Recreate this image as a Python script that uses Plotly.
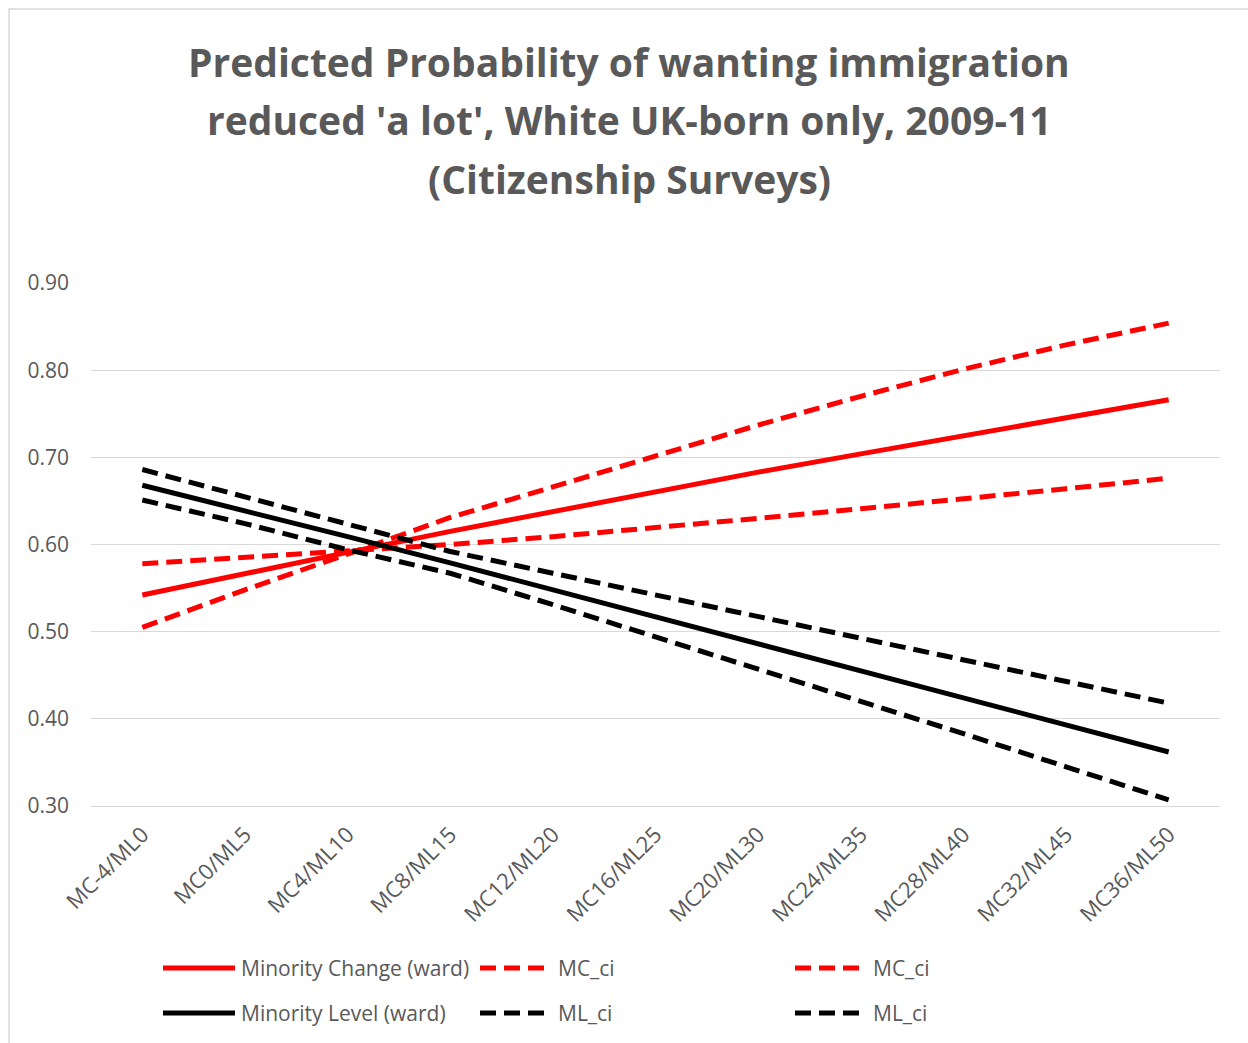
import plotly.graph_objects as go

# Category labels (Minority Change / Minority Level steps)
categories = ["MC-4/ML0", "MC0/ML5", "MC4/ML10", "MC8/ML15", "MC12/ML20", "MC16/ML25",
              "MC20/ML30", "MC24/ML35", "MC28/ML40", "MC32/ML45", "MC36/ML50"]

# Predicted probabilities and confidence bounds
mc_fit = [0.542, 0.567, 0.591, 0.615, 0.638, 0.661, 0.683, 0.704, 0.725, 0.746, 0.766]
mc_ci_upper = [0.505, 0.548, 0.589, 0.631, 0.666, 0.701, 0.737, 0.770, 0.801, 0.829, 0.854]
mc_ci_lower = [0.578, 0.585, 0.592, 0.600, 0.609, 0.619, 0.630, 0.641, 0.652, 0.664, 0.676]
ml_fit = [0.668, 0.639, 0.609, 0.579, 0.548, 0.517, 0.486, 0.455, 0.424, 0.393, 0.362]
ml_ci_upper = [0.686, 0.655, 0.624, 0.592, 0.567, 0.542, 0.517, 0.492, 0.467, 0.443, 0.418]
ml_ci_lower = [0.651, 0.624, 0.594, 0.567, 0.531, 0.494, 0.458, 0.421, 0.383, 0.345, 0.307]

series_names = ["Minority Change (ward)", "MC_ci", "MC_ci",
                "Minority Level (ward)", "ML_ci", "ML_ci"]
series_values = [mc_fit, mc_ci_upper, mc_ci_lower, ml_fit, ml_ci_upper, ml_ci_lower]
series_colors = ["#ff0000", "#ff0000", "#ff0000", "#000000", "#000000", "#000000"]
series_dash = ["solid", "16px,8px", "16px,8px", "solid", "16px,8px", "16px,8px"]

W, H = 1248, 1043
L, R, T, B = 91, 28, 283, 237
PW, PH = W - L - R, H - T - B
FONT = "Open Sans"
GREY = "#595959"


def fx(px):
    return (px - L) / PW


def fy(py):
    return (H - B - py) / PH


fig = go.Figure()
for name, vals, col, dash in zip(series_names, series_values, series_colors, series_dash):
    fig.add_trace(go.Scatter(
        x=categories, y=vals, mode="lines", name=name,
        line=dict(color=col, width=5, dash=dash),
        showlegend=False,
    ))

shapes = [
    # chart frame
    dict(type="rect", xref="paper", yref="paper",
         x0=fx(9), x1=fx(W + 5), y0=fy(H + 5), y1=fy(9),
         line=dict(color="#d9d9d9", width=1.5), fillcolor="rgba(0,0,0,0)", layer="below"),
]
annotations = []

# Title, one annotation per line
title_lines = ["Predicted Probability of wanting immigration",
               "reduced 'a lot', White UK-born only, 2009-11",
               "(Citizenship Surveys)"]
for i, line in enumerate(title_lines):
    annotations.append(dict(
        text=f"<b>{line}</b>", xref="paper", yref="paper",
        x=fx(629), y=fy(61 + 58.5 * i), xanchor="center", yanchor="middle",
        showarrow=False, font=dict(family=FONT, size=39, color=GREY),
    ))

# Legend: three columns, two rows
col_x = [163, 480, 795]
row_y = [968, 1013]
for idx, (name, col, dash) in enumerate(zip(series_names, series_colors, series_dash)):
    r, c = divmod(idx, 3)
    x0 = col_x[c]
    y = row_y[r]
    shapes.append(dict(type="line", xref="paper", yref="paper",
                       x0=fx(x0), x1=fx(x0 + 72), y0=fy(y), y1=fy(y),
                       line=dict(color=col, width=5, dash=dash)))
    annotations.append(dict(
        text=name, xref="paper", yref="paper", x=fx(x0 + 76), y=fy(y),
        xanchor="left", yanchor="middle", showarrow=False,
        font=dict(family=FONT, size=21, color=GREY),
    ))

fig.update_layout(
    width=W, height=H,
    margin=dict(l=L, r=R, t=T, b=B, autoexpand=False),
    paper_bgcolor="white", plot_bgcolor="white",
    shapes=shapes, annotations=annotations,
    showlegend=False,
    xaxis=dict(
        type="category", range=[-0.5, len(categories) - 0.5],
        tickangle=-45, tickfont=dict(family=FONT, size=22, color=GREY),
        showgrid=False, showline=True, linecolor="#d9d9d9", linewidth=1,
        ticks="", ticklabelstandoff=6, zeroline=False,
    ),
    yaxis=dict(
        range=[0.3, 0.9], dtick=0.1, tick0=0.3, tickformat=".2f",
        tickfont=dict(family=FONT, size=21, color=GREY),
        gridcolor="#d9d9d9", gridwidth=1, showline=False, zeroline=False,
        ticks="", ticklabelstandoff=21,
    ),
)

fig.write_html("out.html")
